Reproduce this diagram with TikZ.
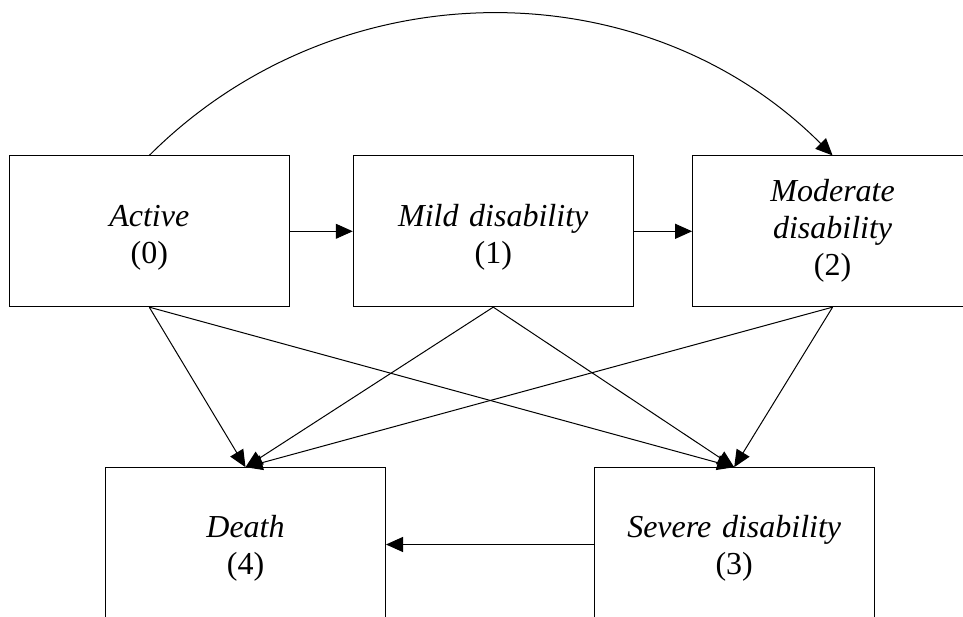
\documentclass[tikz,border=0pt]{standalone}
\usepackage{fontspec}
\setmainfont{Liberation Serif}
\usetikzlibrary{arrows.meta}
\begin{document}
\begin{tikzpicture}[x=1pt,y=1pt,
  state/.style={draw=black, line width=1pt, inner sep=0pt, align=center,
    font=\fontsize{32}{37}\selectfont, text width=270pt},
  toprow/.style={state, minimum width=280pt, minimum height=150.7pt},
  botrow/.style={state, minimum width=280pt, minimum height=153.6pt},
  conn/.style={line width=1pt, -{Triangle[length=17pt,width=15pt]}}]
\useasboundingbox (0,0) rectangle (963,-617);
\node[toprow] (act) at (149.25,-231.3) {\rule{0pt}{34pt}\textit{Active}\\(0)};
\node[toprow] (mild) at (493.25,-231.3) {\rule{0pt}{34pt}\textit{Mild disability}\\(1)};
\node[toprow] (mod) at (832.6,-231.3) {\textit{Moderate}\\\textit{disability}\\(2)};
\node[botrow] (death) at (245.5,-544.5) {\rule{0pt}{30pt}\textit{Death}\\(4)};
\node[botrow] (sev) at (734.2,-544.5) {\rule{0pt}{30pt}\textit{Severe disability}\\(3)};
\draw[conn] (act.east) -- (mild.west);
\draw[conn] (mild.east) -- (mod.west);
\draw[conn] (act.north) to[out=45,in=135] (mod.north);
\draw[conn] (act.south) -- (death.north);
\draw[conn] (act.south) -- (sev.north);
\draw[conn] (mild.south) -- (death.north);
\draw[conn] (mild.south) -- (sev.north);
\draw[conn] (mod.south) -- (death.north);
\draw[conn] (mod.south) -- (sev.north);
\draw[conn] (sev.west) -- (death.east);
\end{tikzpicture}
\end{document}
